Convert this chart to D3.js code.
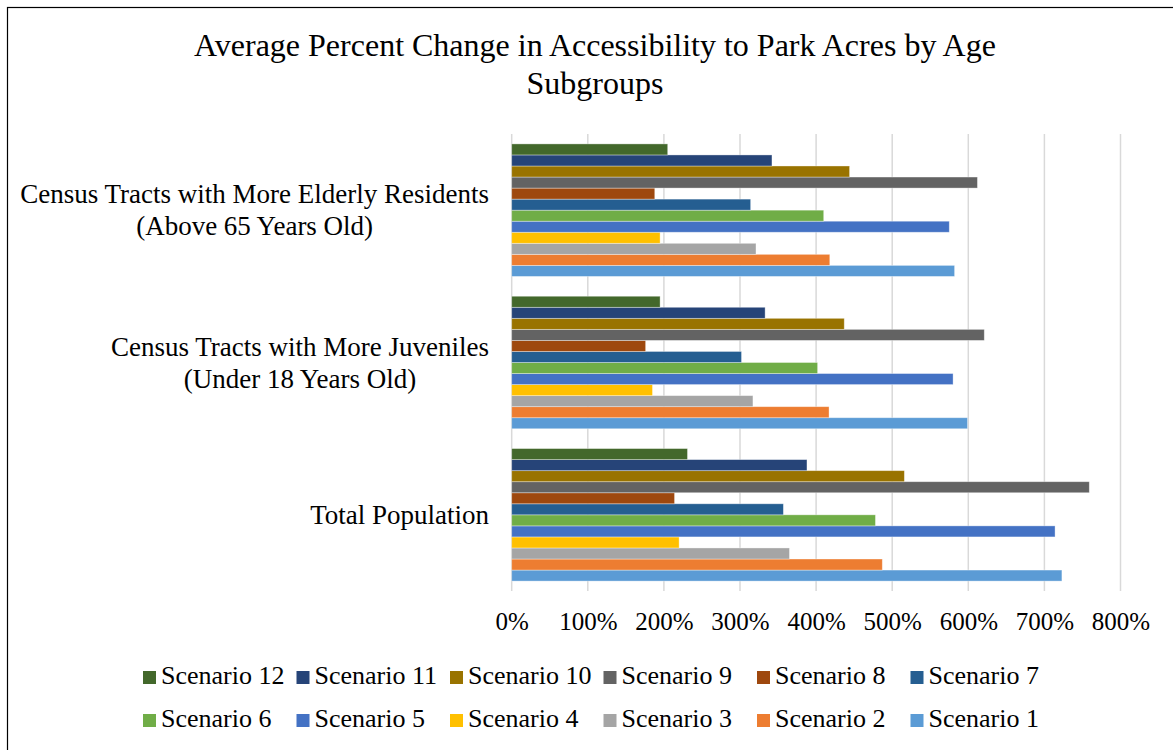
<!DOCTYPE html>
<html>
<head>
<meta charset="utf-8">
<script src="https://cdn.jsdelivr.net/npm/d3@7"></script>
<style>
  body { margin: 0; background: #fff; }
  text { font-family: "Liberation Serif", "Times New Roman", serif; fill: #000; }
</style>
</head>
<body>
<div id="vizContainer"></div>
<script>
let w = 1173;
let h = 750;

// data
let categories = [
  ["Census Tracts with More Elderly Residents", "(Above 65 Years Old)"],
  ["Census Tracts with More Juveniles", "(Under 18 Years Old)"],
  ["Total Population"]
];
let scenarios = ["Scenario 1", "Scenario 2", "Scenario 3", "Scenario 4", "Scenario 5", "Scenario 6",
  "Scenario 7", "Scenario 8", "Scenario 9", "Scenario 10", "Scenario 11", "Scenario 12"];
// percent change, scenario 1..12
let elderlyValues   = [582, 418, 321, 195, 575, 410, 314, 188, 612, 444, 342, 205];
let juvenileValues  = [599, 417, 317, 185, 580, 402, 302, 176, 621, 437, 333, 195];
let totalValues     = [723, 487, 365, 220, 714, 478, 357, 214, 759, 516, 388, 231];
let xTicks = [0, 100, 200, 300, 400, 500, 600, 700, 800];

let colors = ["#5B9BD5", "#ED7D31", "#A5A5A5", "#FFC000", "#4472C4", "#70AD47",
  "#255E91", "#9E480E", "#636363", "#997300", "#264478", "#43682B"];

let valuesByCategory = [elderlyValues, juvenileValues, totalValues];

let viz = d3.select("#vizContainer").append("svg")
    .attr("width", w)
    .attr("height", h)
    .style("display", "block")
;

// outer border (right/bottom fall off the picture)
viz.append("rect")
  .attr("x", 7.5)
  .attr("y", 7.5)
  .attr("width", w + 10)
  .attr("height", h + 10)
  .attr("fill", "none")
  .attr("stroke", "#000")
  .attr("stroke-width", 1.2)
;

// title
let title = viz.append("text")
  .attr("text-anchor", "middle")
  .style("font-size", "32px")
;
title.append("tspan").attr("x", 595).attr("y", 56).text("Average Percent Change in Accessibility to Park Acres by Age");
title.append("tspan").attr("x", 595).attr("y", 94).text("Subgroups");

// scales
let xScale = d3.scaleLinear().domain([0, 800]).range([511.7, 1120.5]);
let groupScale = d3.scaleBand()
  .domain(d3.range(categories.length))
  .range([134, 591])
  .paddingInner(0.13)
  .paddingOuter(0.065)
;
// scenario 12 on top, scenario 1 at the bottom of each group
let barScale = d3.scaleBand()
  .domain(d3.range(scenarios.length).reverse())
  .range([0, groupScale.bandwidth()])
;

// gridlines
let grid = viz.append("g").attr("class", "grid");
grid.selectAll("line").data(xTicks).enter()
  .append("line")
    .attr("x1", d => xScale(d))
    .attr("x2", d => xScale(d))
    .attr("y1", 134)
    .attr("y2", 591)
    .attr("stroke", "#d9d9d9")
    .attr("stroke-width", 1.5)
;

// x axis labels
let xAxis = d3.axisBottom(xScale).tickValues(xTicks).tickFormat(d => d + "%").tickSize(0).tickPadding(0);
let xAxisGroup = viz.append("g")
  .attr("class", "xaxis")
  .attr("transform", "translate(0,614)")
  .call(xAxis)
;
xAxisGroup.select(".domain").remove();
xAxisGroup.selectAll("text")
  .attr("dy", null)
  .attr("y", 16)
  .style("font-size", "25px")
  .style("font-family", "'Liberation Serif', 'Times New Roman', serif")
  .attr("fill", "#000")
;

// bars
let groups = viz.selectAll(".datagroup").data(valuesByCategory).enter()
  .append("g")
    .attr("class", "datagroup")
    .attr("transform", (d, i) => "translate(0," + groupScale(i) + ")")
;
groups.selectAll("rect").data(d => d).enter()
  .append("rect")
    .attr("x", xScale(0))
    .attr("y", (d, i) => barScale(i))
    .attr("width", d => xScale(d) - xScale(0))
    .attr("height", barScale.bandwidth())
    .attr("fill", (d, i) => colors[i])
    .attr("stroke", "#ffffff")
    .attr("stroke-opacity", 0.45)
    .attr("stroke-width", 0.8)
;

// category labels
let catLabels = viz.selectAll(".catlabel").data(categories).enter()
  .append("text")
    .attr("class", "catlabel")
    .attr("text-anchor", "middle")
    .style("font-size", "27px")
;
catLabels.each(function(lines, i) {
  let t = d3.select(this);
  let cy = groupScale(i) + groupScale.bandwidth() / 2;
  let lineH = 32;
  let y0 = cy + 9 - (lines.length - 1) * lineH / 2;
  lines.forEach((line, j) => {
    t.append("tspan").attr("y", y0 + j * lineH).text(line);
  });
  // block is right aligned, lines centred inside it
  let maxW = d3.max(t.selectAll("tspan").nodes(), n => n.getComputedTextLength());
  t.selectAll("tspan").attr("x", 489 - maxW / 2);
});

// legend, two rows of six
let legendOrder = d3.range(scenarios.length).reverse();
let legend = viz.selectAll(".legenditem").data(legendOrder).enter()
  .append("g")
    .attr("class", "legenditem")
    .attr("transform", (d, i) => "translate(" + (143 + (i % 6) * 153.5) + "," + (684 + Math.floor(i / 6) * 43) + ")")
;
legend.append("rect")
  .attr("x", 0)
  .attr("y", -13)
  .attr("width", 13)
  .attr("height", 13)
  .attr("fill", d => colors[d])
;
legend.append("text")
  .attr("x", 18)
  .attr("y", 0)
  .style("font-size", "26px")
  .text(d => scenarios[d])
;
</script>
</body>
</html>
